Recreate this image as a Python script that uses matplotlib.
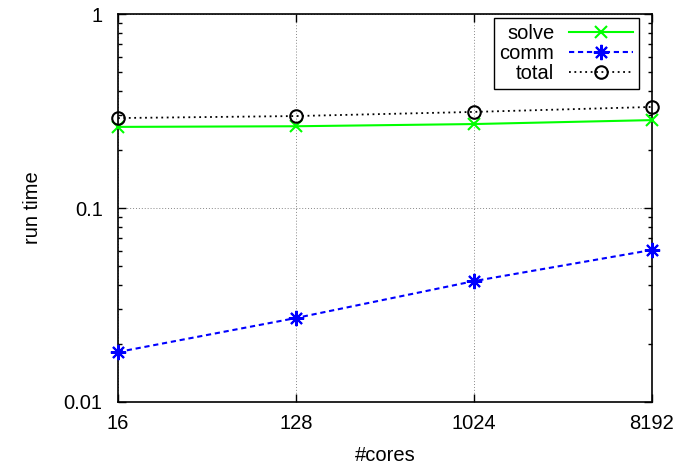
import numpy as np
import matplotlib.pyplot as plt
from matplotlib.ticker import FixedLocator, NullFormatter, FixedFormatter

plt.rcParams['font.family'] = ['Liberation Sans', 'DejaVu Sans']

# data
cores = [16, 128, 1024, 8192]
solve = [0.262, 0.264, 0.271, 0.284]
comm = [0.0181, 0.0271, 0.042, 0.0608]
total = [0.291, 0.298, 0.313, 0.332]

fig = plt.figure(figsize=(6.77, 4.69), dpi=100)
ax = fig.add_axes([0.1743, 0.1429, 0.963 - 0.1743, 0.970 - 0.1429])

ax.plot(cores, solve, color='#00ff00', lw=1.5, marker='x', ms=9, mew=1.5,
        label='solve', clip_on=False, zorder=3)
ax.plot(cores, comm, color='#0000ff', lw=1.5, ls=(0, (2.5, 1.8)), marker=(8, 2, 0), ms=11, mew=1.5,
        label='comm', clip_on=False, zorder=3)
ax.plot(cores, total, color='black', lw=1.3, ls=(0, (1, 2)), marker='o', ms=9, mfc='none', mew=1.5,
        label='total', clip_on=False, zorder=3)

ax.set_xscale('log', base=2)
ax.set_yscale('log')
ax.set_xlim(16, 8192)
ax.set_ylim(0.01, 1)

ax.xaxis.set_major_locator(FixedLocator(cores))
ax.xaxis.set_major_formatter(FixedFormatter([str(c) for c in cores]))
ax.xaxis.set_minor_locator(FixedLocator([]))
ax.yaxis.set_major_locator(FixedLocator([0.01, 0.1, 1]))
ax.yaxis.set_major_formatter(FixedFormatter(['0.01', '0.1', '1']))
minors = [m * d for d in [0.01, 0.1] for m in range(2, 10)]
ax.yaxis.set_minor_locator(FixedLocator(minors))
ax.yaxis.set_minor_formatter(NullFormatter())

ax.tick_params(which='both', direction='in', top=True, right=True, labelsize=14.5)
ax.tick_params(axis='y', pad=11)
ax.tick_params(axis='x', pad=9)
ax.tick_params(which='major', length=6, width=1)
ax.tick_params(which='minor', length=3, width=1)

ax.grid(True, which='major', ls=(0, (1, 2)), color='#888888', lw=0.7)
for s in ax.spines.values():
    s.set_linewidth(1.2)

ax.set_xlabel('#cores', fontsize=14.5, labelpad=9)
ax.set_ylabel('run time', fontsize=14.5, labelpad=16)

# legend box placed like gnuplot's key
leg = ax.legend(loc='upper right', bbox_to_anchor=(639 / 677, 1 - 18 / 469),
                bbox_transform=fig.transFigure, markerfirst=False, fancybox=False,
                framealpha=1, edgecolor='black', fontsize=14.5, handlelength=3.2,
                borderaxespad=0, labelspacing=0.05, handletextpad=0.7, borderpad=0.3)
leg.get_frame().set_linewidth(1.0)
for t in leg.get_texts():
    t.set_ha('right')
leg._legend_box.align = 'right'

fig.savefig('out.png', dpi=100)
